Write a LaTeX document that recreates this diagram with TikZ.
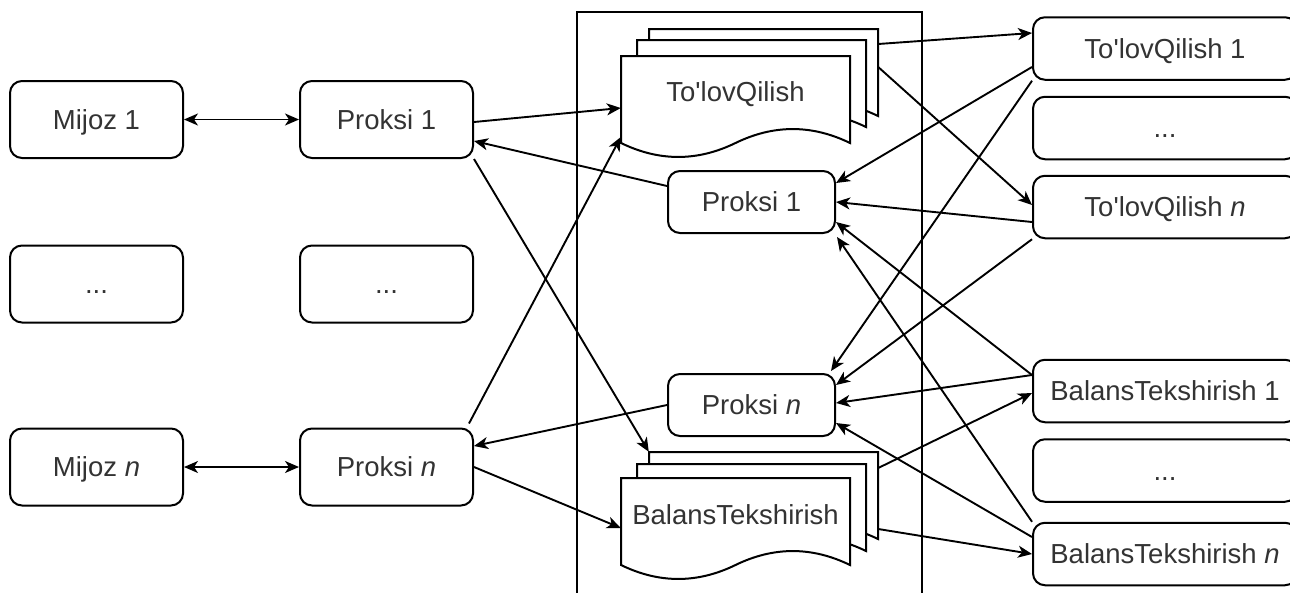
\documentclass[tikz,border=0pt]{standalone}
\usepackage{fontspec}
\setmainfont{Liberation Sans}
\usetikzlibrary{arrows.meta,calc}
\newcommand\mydocpage[3]{% name, x0, top
  \node[pagebox] (#1) at (#2+114.5,#3+43.5) {};
  \filldraw[pageline] (#2,#3) -- (#2+229,#3) -- (#2+229,#3+87)
    .. controls (#2+190.8,#3+68.4) and (#2+152.7,#3+68.4) .. (#2+114.5,#3+87)
    .. controls (#2+76.3,#3+105.6) and (#2+38.2,#3+105.6) .. (#2,#3+87) -- cycle;
}
\begin{document}
\begin{tikzpicture}[x=1pt,y=-1pt,
  txt/.style={font=\fontsize{27.5}{33}\selectfont, text=black!80, text height=19.7pt, text depth=0pt},
  box/.style={txt, draw, line width=2pt, rounded corners=12pt, fill=white, inner sep=0pt},
  lbox/.style={box, minimum width=173pt, minimum height=77pt},
  mbox/.style={box, minimum width=167pt, minimum height=62pt},
  rbox/.style={box, minimum width=264pt, minimum height=62.5pt},
  pagebox/.style={draw=none, inner sep=0pt, minimum width=229pt, minimum height=87pt},
  pageline/.style={draw=black, fill=white, line width=2pt},
  tip/.tip={Stealth[length=14pt,width=12pt,inset=4pt]},
  conn/.style={line width=1.9pt, -tip},
  biconn/.style={line width=1.9pt, tip-tip}
]
\useasboundingbox (0,0) rectangle (1290,592);
\clip (0,0) rectangle (1290,592);
\fill[white] (0,0) rectangle (1290,592);

% system frame
\node[draw, line width=2pt, inner sep=0pt, minimum width=345pt, minimum height=620pt] (sys) at (749.5,322) {};

% left columns
\node[lbox] (m1) at (96.5,119.5) {Mijoz 1};
\node[lbox] (ld1) at (96.5,284) {...};
\node[lbox] (mn) at (96.5,467) {Mijoz \textit{n}};
\node[lbox] (lp1) at (386.5,119.5) {Proksi 1};
\node[lbox] (ld2) at (386.5,284) {...};
\node[lbox] (lpn) at (386.5,467) {Proksi \textit{n}};

% document stacks
\mydocpage{tqC}{649}{29}
\mydocpage{tqB}{637}{40}
\mydocpage{tqA}{621}{56}
\node[txt] (tqt) at (735.5,92) {To\textquotesingle lovQilish};
\mydocpage{btC}{649}{452}
\mydocpage{btB}{637}{464}
\mydocpage{btA}{621}{478}
\node[txt] (btt) at (735.5,515) {BalansTekshirish};

% middle proxies
\node[mbox] (mp1) at (751.5,202) {Proksi 1};
\node[mbox] (mpn) at (751.5,405) {Proksi \textit{n}};

% right column
\node[rbox] (rt1) at (1165,48.5) {To\textquotesingle lovQilish 1};
\node[rbox] (rd1) at (1165,128) {...};
\node[rbox] (rtn) at (1165,207) {To\textquotesingle lovQilish \textit{n}};
\node[rbox] (rb1) at (1165,391) {BalansTekshirish 1};
\node[rbox] (rd2) at (1165,470.5) {...};
\node[rbox] (rbn) at (1165,554) {BalansTekshirish \textit{n}};

% connectors
\draw[biconn] (m1.east) -- (lp1.west);
\draw[biconn] (mn.east) -- (lpn.west);
\draw[conn] ([yshift=-2.5pt]lp1.east) -- ([yshift=-8.5pt]tqA.west);
\draw[conn] ([yshift=16pt]mp1.west) -- ([yshift=-21.5pt]lp1.east);
\draw[conn] (lp1.south east) -- (btC.north west);
\draw[conn] ([xshift=-5pt,yshift=4pt]lpn.north east) -- ([yshift=-37.5pt]tqA.west);
\draw[conn] (mpn.west) -- ([yshift=21pt]lpn.east);
\draw[conn] (lpn.east) -- ([yshift=-6.5pt]btA.west);
\draw[conn] ([yshift=28.5pt]tqC.east) -- ([yshift=15.5pt]rt1.west);
\draw[conn] ([yshift=5.5pt]tqC.east) -- ([yshift=2pt]rtn.west);
\draw[conn] ([yshift=-18.5pt]rt1.west) -- ([yshift=19pt]mp1.east);
\draw[conn] (rt1.south west) -- ([xshift=-5pt,yshift=2pt]mpn.north east);
\draw[conn] ([yshift=-15pt]rtn.west) -- (mp1.east);
\draw[conn] (rtn.south west) -- ([yshift=20pt]mpn.east);
\draw[conn] ([yshift=16pt]rb1.west) -- ([yshift=-20pt]mp1.east);
\draw[conn] (rbn.north west) -- ([xshift=1pt,yshift=-3pt]mp1.south east);
\draw[conn] ([yshift=16pt]rb1.west) -- ([yshift=2pt]mpn.east);
\draw[conn] ([yshift=27.5pt]btC.east) -- ([yshift=-2pt]rb1.west);
\draw[conn] ([yshift=-33.5pt]btC.east) -- (rbn.west);
\draw[conn] ([yshift=17pt]rbn.west) -- ([yshift=-18pt]mpn.east);
\end{tikzpicture}
\end{document}
